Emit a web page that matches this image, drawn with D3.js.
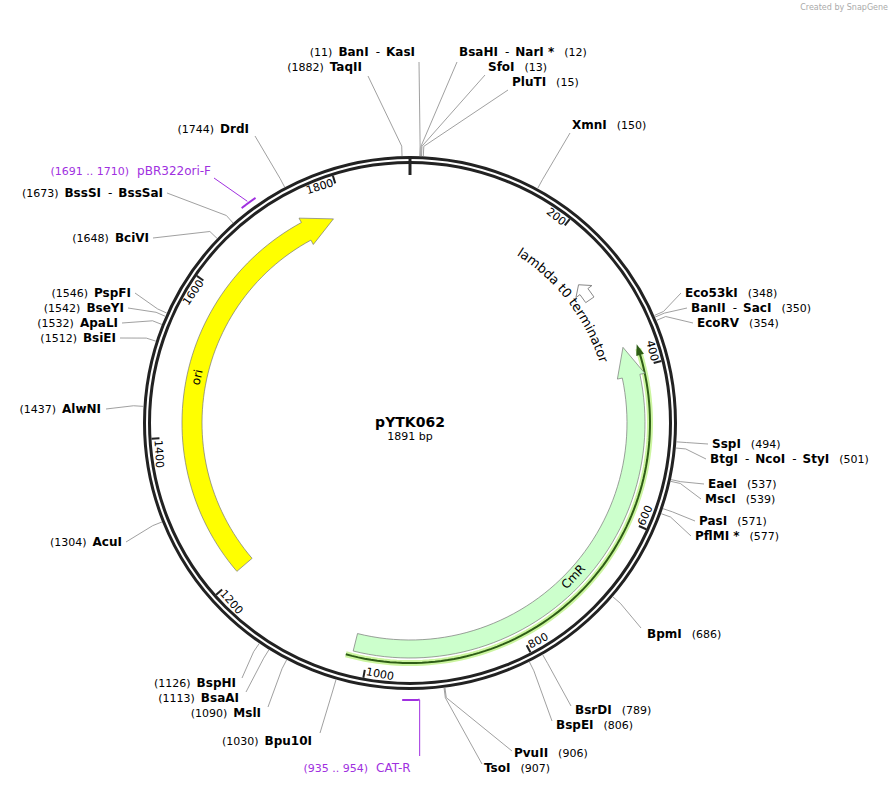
<!DOCTYPE html>
<html><head><meta charset="utf-8">
<script src="https://cdn.jsdelivr.net/npm/d3@7"></script>
<style>body{margin:0;background:#fff}text{font-family:"DejaVu Sans",Verdana,sans-serif}</style>
</head><body>
<svg id="map" width="895" height="786"></svg>
<script>
const seqLength = 1891;
const plasmidName = "pYTK062";
const tickPositions = [200, 400, 600, 800, 1000, 1200, 1400, 1600, 1800];

// enzyme sites: name, position
const enzymes = [
  ["BanI - KasI", 11], ["TaqII", 1882], ["BsaHI - NarI *", 12], ["SfoI", 13], ["PluTI", 15],
  ["XmnI", 150], ["Eco53kI", 348], ["BanII - SacI", 350], ["EcoRV", 354],
  ["SspI", 494], ["BtgI - NcoI - StyI", 501], ["EaeI", 537], ["MscI", 539],
  ["PasI", 571], ["PflMI *", 577], ["BpmI", 686], ["BsrDI", 789], ["BspEI", 806],
  ["PvuII", 906], ["TsoI", 907], ["Bpu10I", 1030], ["MslI", 1090], ["BsaAI", 1113],
  ["BspHI", 1126], ["AcuI", 1304], ["AlwNI", 1437], ["BsiEI", 1512], ["ApaLI", 1532],
  ["BseYI", 1542], ["PspFI", 1546], ["BciVI", 1648], ["BssSI - BssSaI", 1673], ["DrdI", 1744]
];
// label layout: x, y, side ("l" = position text left of name, "r" = right), line end x, y
const enzymeLayout = [
  [415, 56, "l", 419, 62], [362, 71, "l", 368, 76], [459, 56, "r", 457, 62], [488, 71, "r", 485, 75], [512, 86, "r", 508, 90],
  [572, 129, "r", 570, 133], [685, 297, "r", 681, 293], [691, 312, "r", 687, 308], [697, 327, "r", 693, 323],
  [712, 448, "r", 708, 444], [710, 463, "r", 706, 459], [708, 488, "r", 704, 484], [705, 503, "r", 701, 499],
  [699, 525, "r", 695, 521], [695, 540, "r", 691, 536], [647, 638, "r", 641, 628], [575, 714, "r", 571, 706], [556, 729, "r", 552, 721],
  [514, 757, "r", 512, 751], [484, 772, "r", 482, 764], [312, 745, "l", 320, 733], [261, 717, "l", 268, 707], [239, 702, "l", 246, 692],
  [236, 687, "l", 242, 678], [122, 546, "l", 126, 542], [101, 413, "l", 106, 409], [116, 342, "l", 120, 338], [118, 327, "l", 122, 323],
  [124, 312, "l", 128, 308], [131, 297, "l", 135, 293], [149, 242, "l", 153, 238], [163, 197, "l", 167, 193], [249, 133, "l", 255, 136]
];

// features: name, start, end, strand, color
const features = [
  ["ori", 1205, 1783, 1, "#ffff00"],
  ["CmR", 370, 1019, -1, "#ccffcc"],
  ["lambda t0 terminator", 266, 292, -1, "#ffffff"]
];
const primers = [
  ["pBR322ori-F", 1691, 1710, "(1691 .. 1710)"],
  ["CAT-R", 935, 954, "(935 .. 954)"]
];

const svg = d3.select("#map");
const cx = 410, cy = 423;
const R = 263;
const ang = d3.scaleLinear().domain([0, seqLength]).range([0, 2 * Math.PI]);
const pt = (p, r) => [cx + r * Math.sin(ang(p)), cy - r * Math.cos(ang(p))];

svg.append("text").attr("x", 888).attr("y", 10).attr("text-anchor", "end")
  .attr("font-size", 8).attr("fill", "#aaa").text("Created by  SnapGene");

// backbone
svg.append("circle").attr("cx", cx).attr("cy", cy).attr("r", R + 2.5).attr("fill", "none").attr("stroke", "#222").attr("stroke-width", 3);
svg.append("circle").attr("cx", cx).attr("cy", cy).attr("r", R - 2.5).attr("fill", "none").attr("stroke", "#222").attr("stroke-width", 3);
{
  const a = pt(0, R + 3), b = pt(0, R - 15);
  svg.append("line").attr("x1", a[0]).attr("y1", a[1]).attr("x2", b[0]).attr("y2", b[1]).attr("stroke", "#222").attr("stroke-width", 3);
}

// ticks
tickPositions.forEach(p => {
  const a = pt(p, R - 4), b = pt(p, R - 12);
  svg.append("line").attr("x1", a[0]).attr("y1", a[1]).attr("x2", b[0]).attr("y2", b[1]).attr("stroke", "#222").attr("stroke-width", 2);
  const deg = ang(p) * 180 / Math.PI;
  const flip = deg > 90 && deg < 270;
  const q = pt(p - 2, flip ? R - 7 : R - 14);
  svg.append("text").attr("transform", `translate(${q[0]},${q[1]}) rotate(${flip ? deg - 180 : deg})`)
    .attr("text-anchor", flip ? "start" : "end")
    .attr("font-size", 11).text(p);
});

// arc arrows
function arrowPath(s, e, strand, rMid, w) {
  const headLen = 30 / rMid * (seqLength / (2 * Math.PI));
  const r1 = rMid - w / 2, r2 = rMid + w / 2, hw = w / 2 + 5;
  const body = d3.path();
  if (strand > 0) {
    const he = e - headLen;
    const arc = d3.range(s, he + 0.01, (he - s) / 60);
    arc.forEach((p, i) => { const q = pt(p, r2); i ? body.lineTo(...q) : body.moveTo(...q); });
    body.lineTo(...pt(he, rMid + hw)); body.lineTo(...pt(e, rMid)); body.lineTo(...pt(he, rMid - hw));
    arc.slice().reverse().forEach(p => body.lineTo(...pt(p, r1)));
  } else {
    const hs = s + headLen;
    const arc = d3.range(hs, e + 0.01, (e - hs) / 60);
    arc.forEach((p, i) => { const q = pt(p, r2); i ? body.lineTo(...q) : body.moveTo(...q); });
    arc.slice().reverse().forEach(p => body.lineTo(...pt(p, r1)));
    body.lineTo(...pt(hs, rMid - hw)); body.lineTo(...pt(s, rMid)); body.lineTo(...pt(hs, rMid + hw));
  }
  body.closePath();
  return body.toString();
}
function arcPath(s, e, r) {
  const pts = d3.range(s, e + 0.01, (e - s) / 80).map(p => pt(p, r));
  return d3.line()(pts);
}

// CmR highlight line
const cm = features[1];
svg.append("path").attr("d", arcPath(cm[1] + 8, cm[2] + 8, 240)).attr("fill", "none").attr("stroke", "#ccf5a0").attr("stroke-width", 6);
svg.append("path").attr("d", arcPath(cm[1] + 12, cm[2] + 8, 240)).attr("fill", "none").attr("stroke", "#2e5d16").attr("stroke-width", 2);
{
  const tip = pt(cm[1] + 2, 240), b1 = pt(cm[1] + 16, 236), b2 = pt(cm[1] + 16, 244);
  svg.append("path").attr("d", `M${tip}L${b1}L${b2}Z`).attr("fill", "#2e5d16");
}

svg.append("path").attr("d", arrowPath(features[0][1], features[0][2], 1, 218, 20))
  .attr("fill", features[0][4]).attr("stroke", "#777").attr("stroke-width", 0.7);
svg.append("path").attr("d", arrowPath(cm[1], cm[2], -1, 226, 18))
  .attr("fill", cm[4]).attr("stroke", "#777").attr("stroke-width", 0.7);
{
  const f = features[2];
  const s = f[1], e = f[2], hs = s + 12, rm = 218;
  const p = d3.path();
  p.moveTo(...pt(hs, rm + 5)); p.lineTo(...pt(e, rm + 5)); p.lineTo(...pt(e, rm - 5)); p.lineTo(...pt(hs, rm - 5));
  p.lineTo(...pt(hs, rm - 10)); p.lineTo(...pt(s, rm)); p.lineTo(...pt(hs, rm + 10)); p.closePath();
  svg.append("path").attr("d", p.toString()).attr("fill", "#fff").attr("stroke", "#888").attr("stroke-width", 1);
}

// feature labels
const defs = svg.append("defs");
defs.append("path").attr("id", "lamArc").attr("d", arcPath(170, 420, 199));
svg.append("text").attr("font-size", 13).append("textPath").attr("href", "#lamArc").text(features[2][0]);
function arcLabel(txt, pos, r) {
  const q = pt(pos, r);
  let deg = ang(pos) * 180 / Math.PI;
  if (deg > 90 && deg < 270) deg -= 180;
  svg.append("text").attr("transform", `translate(${q[0]},${q[1]}) rotate(${deg})`).attr("text-anchor", "middle")
    .attr("dy", "0.35em").attr("font-size", 12).text(txt);
}
arcLabel(cm[0], 700, 224);
arcLabel("ori", 1482, 218);

// enzymes
enzymes.forEach(([name, pos], i) => {
  const [x, y, side, lx, ly] = enzymeLayout[i];
  const a = pt(pos, R + 4), b = pt(pos, R + 14);
  svg.append("path").attr("d", `M${a}L${b}L${lx},${ly}`).attr("fill", "none").attr("stroke", "#888").attr("stroke-width", 0.8);
  const t = svg.append("text").attr("x", x).attr("y", y).attr("font-size", 12)
    .attr("text-anchor", side === "l" ? "end" : "start");
  const parts = name.split(" - ");
  if (side === "l") t.append("tspan").attr("font-size", 11).text(`(${pos})`);
  parts.forEach((n, j) => {
    if (j) t.append("tspan").attr("dx", 7).text("-");
    t.append("tspan").attr("dx", (j || side === "l") ? 6 : 0).attr("font-weight", "bold").text(n);
  });
  if (side === "r") t.append("tspan").attr("dx", 10).attr("font-size", 11).text(`(${pos})`);
});

// primers
const purple = "#a030e0";
{
  const [n, s, e, rng] = primers[0];
  svg.append("path").attr("d", arcPath(s, e, R + 10)).attr("stroke", purple).attr("stroke-width", 2).attr("fill", "none");
  const m = pt((s + e) / 2, R + 12);
  svg.append("line").attr("x1", m[0]).attr("y1", m[1]).attr("x2", 214).attr("y2", 178).attr("stroke", purple).attr("stroke-width", 1);
  svg.append("text").attr("x", 211).attr("y", 175).attr("text-anchor", "end").attr("fill", purple).attr("font-size", 12)
    .html(`<tspan font-size="11">${rng}</tspan><tspan dx="8">${n}</tspan>`);
}
{
  const [n, s, e, rng] = primers[1];
  svg.append("path").attr("d", arcPath(s, e, R + 14)).attr("stroke", purple).attr("stroke-width", 2).attr("fill", "none");
  const m = pt(s, R + 14);
  svg.append("line").attr("x1", m[0]).attr("y1", m[1]).attr("x2", m[0]).attr("y2", 756).attr("stroke", purple).attr("stroke-width", 1);
  svg.append("text").attr("x", 357).attr("y", 772).attr("text-anchor", "middle").attr("fill", purple).attr("font-size", 12)
    .html(`<tspan font-size="11">${rng}</tspan><tspan dx="8">${n}</tspan>`);
}

// center
svg.append("text").attr("x", cx).attr("y", 427).attr("text-anchor", "middle").attr("font-size", 14).attr("font-weight", "bold").text(plasmidName);
svg.append("text").attr("x", cx).attr("y", 440).attr("text-anchor", "middle").attr("font-size", 11).text(`${seqLength} bp`);
</script>
</body></html>
